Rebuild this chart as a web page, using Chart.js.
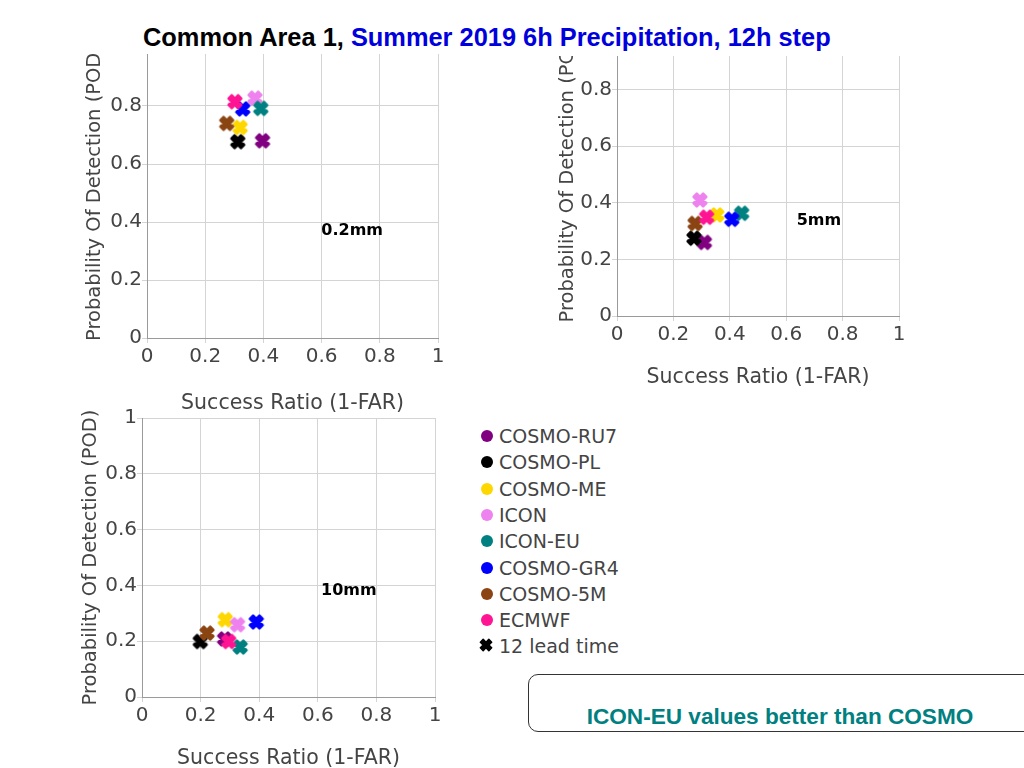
<!DOCTYPE html>
<html>
<head>
<meta charset="utf-8">
<script src="https://cdn.jsdelivr.net/npm/chart.js@4.4.1/dist/chart.umd.min.js"></script>
<style>
  body { margin:0; width:1024px; height:768px; background:#fff; position:relative; overflow:hidden; font-family:"DejaVu Sans", sans-serif; }
  .panel { position:absolute; overflow:hidden; }
  .panel canvas { position:absolute; left:0; }
  #title { position:absolute; left:143px; top:23px; font:bold 25.4px "Liberation Sans", Arial, sans-serif; white-space:nowrap; color:#000; }
  #title span { color:#0000dd; }
  #legend { position:absolute; left:478px; top:423px; width:200px; height:250px; }
  .row { position:absolute; left:0; height:26px; line-height:26px; font-size:19px; color:#444; white-space:nowrap; }
  .dot { position:absolute; left:3px; top:7px; width:12px; height:12px; border-radius:50%; }
  .row canvas { position:absolute; left:0; top:4px; }
  .row .txt { position:absolute; left:21px; top:0; }
  #note { position:absolute; left:528px; top:674px; width:510px; height:56px; border:1px solid #333; border-radius:10px; }
  #noteText { position:absolute; left:528px; width:504px; top:704px; text-align:center; font:bold 22.6px "Liberation Sans", Arial, sans-serif; color:#008080; white-space:nowrap; }
</style>
</head>
<body>
<div id="title">Common Area 1, <span>Summer 2019 6h Precipitation, 12h step</span></div>
<div id="legend"></div>
<div id="note"></div>
<div id="noteText">ICON-EU values better than COSMO</div>

<script>
// models and colours
const models = ['COSMO-RU7', 'COSMO-PL', 'COSMO-ME', 'ICON', 'ICON-EU', 'COSMO-GR4', 'COSMO-5M', 'ECMWF'];
const colors = ['#800080', '#000000', '#FFD700', '#EE82EE', '#008080', '#0000FF', '#8B4513', '#FF1493'];
const leadLabel = '12 lead time';

// 0.2mm threshold
const sr02  = [0.397, 0.312, 0.320, 0.371, 0.391, 0.329, 0.274, 0.302];
const pod02 = [0.680, 0.677, 0.726, 0.827, 0.792, 0.790, 0.740, 0.815];
// 5mm threshold
const sr5  = [0.310, 0.273, 0.354, 0.294, 0.442, 0.407, 0.277, 0.318];
const pod5 = [0.260, 0.275, 0.357, 0.410, 0.363, 0.342, 0.327, 0.349];
// 10mm threshold
const sr10  = [0.282, 0.199, 0.284, 0.326, 0.335, 0.390, 0.222, 0.296];
const pod10 = [0.208, 0.199, 0.277, 0.259, 0.179, 0.269, 0.229, 0.199];

const tickValues = [0, 0.2, 0.4, 0.6, 0.8, 1];
const tickLabels = ['0', '0.2', '0.4', '0.6', '0.8', '1'];
const xTitle = 'Success Ratio (1-FAR)';
const yTitle = 'Probability Of Detection (POD)';

// plotly-like "x" marker
function xMarker(color, r, lw) {
  const c = document.createElement('canvas');
  const s = Math.ceil(r * 2 + lw + 4);
  c.width = s; c.height = s;
  const g = c.getContext('2d');
  const rx = r * 0.8 / Math.sqrt(2);
  const pts = [[0, rx], [rx, 2*rx], [2*rx, rx], [rx, 0], [2*rx, -rx], [rx, -2*rx], [0, -rx],
               [-rx, -2*rx], [-2*rx, -rx], [-rx, 0], [-2*rx, rx], [-rx, 2*rx]];
  g.translate(s / 2, s / 2);
  g.beginPath();
  pts.forEach((p, i) => i ? g.lineTo(p[0], p[1]) : g.moveTo(p[0], p[1]));
  g.closePath();
  g.fillStyle = color; g.strokeStyle = color; g.lineWidth = lw; g.lineJoin = 'round';
  g.fill(); g.stroke();
  return c;
}

const panelLabel = {
  id: 'panelLabel',
  afterDatasetsDraw(chart, args, opts) {
    const {ctx, scales: {x, y}} = chart;
    ctx.save();
    ctx.font = 'bold 16px "DejaVu Sans"';
    ctx.fillStyle = '#000';
    ctx.textAlign = 'center';
    ctx.textBaseline = 'middle';
    ctx.fillText(opts.text, x.getPixelForValue(opts.x), y.getPixelForValue(opts.y));
    ctx.restore();
  }
};

const AXW = 90, AXH = 90, PADT = 14, PADR = 15;

const panels = [
  {left: 147, right: 438, top: 48, bottom: 338, clip: 54, xPad: 12, yPad: 26, sr: sr02, pod: pod02, text: '0.2mm', tx: 0.705, ty: 0.368},
  {left: 617, right: 899, top: 33, bottom: 316, clip: 56, xPad: 16, yPad: 29, sr: sr5, pod: pod5, text: '5mm', tx: 0.716, ty: 0.338},
  {left: 142, right: 435, top: 418, bottom: 697, clip: 0, xPad: 16, yPad: 27, sr: sr10, pod: pod10, text: '10mm', tx: 0.706, ty: 0.38}
];

panels.forEach(p => {
  const w = (p.right - p.left) + AXW + PADR;
  const h = (p.bottom - p.top) + PADT + AXH;
  const cTop = p.top - PADT;
  const clipTop = Math.max(p.clip, cTop);
  const wrap = document.createElement('div');
  wrap.className = 'panel';
  wrap.style.left = (p.left - AXW) + 'px';
  wrap.style.top = clipTop + 'px';
  wrap.style.width = w + 'px';
  wrap.style.height = (cTop + h - clipTop) + 'px';
  const cv = document.createElement('canvas');
  cv.width = w; cv.height = h;
  cv.style.top = (cTop - clipTop) + 'px';
  wrap.appendChild(cv);
  document.body.appendChild(wrap);

  const datasets = models.map((m, i) => ({
    label: m,
    data: [{x: p.sr[i], y: p.pod[i]}],
    pointStyle: xMarker(colors[i], 5.6, 2.6),
    backgroundColor: colors[i],
    borderColor: colors[i],
    order: -i
  }));

  const axis = (title, pad, isX) => ({
    type: 'linear', min: 0, max: 1,
    afterBuildTicks: s => { s.ticks = tickValues.map(v => ({value: v})); },
    afterFit: s => { if (isX) s.height = AXH; else s.width = AXW; },
    grid: {color: '#d4d4d4', tickLength: 5},
    border: {color: '#9a9a9a'},
    ticks: {color: '#444', padding: isX ? 2 : 0, font: {family: 'DejaVu Sans', size: 20}, maxRotation: 0,
            callback: (v) => tickLabels[tickValues.indexOf(v)]},
    title: {display: true, text: title, color: '#444', font: {family: 'DejaVu Sans', size: isX ? 20.5 : 19.5},
            padding: isX ? {top: 0, bottom: pad} : {top: pad, bottom: 0}}
  });

  new Chart(cv, {
    type: 'scatter',
    data: {datasets: datasets},
    plugins: [panelLabel],
    options: {
      responsive: false,
      animation: false,
      events: [],
      layout: {padding: {top: PADT, right: PADR, left: 0, bottom: 0}},
      plugins: {legend: {display: false}, tooltip: {enabled: false},
                panelLabel: {text: p.text, x: p.tx, y: p.ty}},
      scales: {x: axis(xTitle, p.xPad, true), y: axis(yTitle, p.yPad, false)}
    }
  });
});

// legend
const legend = document.getElementById('legend');
models.concat([leadLabel]).forEach((m, i) => {
  const row = document.createElement('div');
  row.className = 'row';
  row.style.top = (i * 26.3) + 'px';
  if (i < models.length) {
    const d = document.createElement('span');
    d.className = 'dot';
    d.style.background = colors[i];
    row.appendChild(d);
  } else {
    row.appendChild(xMarker('#000', 5, 1.5));
  }
  const t = document.createElement('span');
  t.className = 'txt';
  t.textContent = m;
  row.appendChild(t);
  legend.appendChild(row);
});
</script>
</body>
</html>
